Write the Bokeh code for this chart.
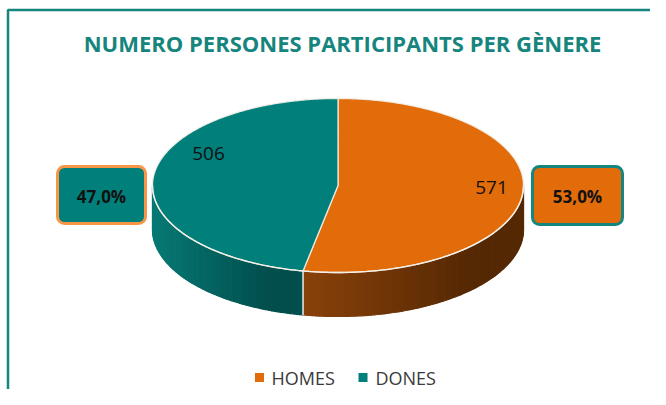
import numpy as np
from bokeh.plotting import figure
from bokeh.models import Range1d, BoxAnnotation
from bokeh.core.properties import value
from bokeh.embed import file_html
from bokeh.resources import INLINE

# ---- data ----
categories = ["HOMES", "DONES"]
counts = [571, 506]
pct_labels = ["53,0%", "47,0%"]
title_text = "NUMERO PERSONES PARTICIPANTS PER GÈNERE"

# ---- style ----
top_colors = ["#E26B0A", "#017F7A"]
side_left = [(0x8A, 0x42, 0x0B), (0x08, 0x7A, 0x75)]
side_right = [(0x55, 0x29, 0x04), (0x02, 0x4F, 0x4D)]
callout_fill = ["#E26B0A", "#017F7A"]
callout_border = ["#13877F", "#F79646"]
TEAL_TITLE = "#16857E"
FONT = "Open Sans"

W, H = 650, 389
p = figure(width=W, height=H, output_backend="svg", toolbar_location=None,
           x_range=Range1d(0, W), y_range=Range1d(H, 0),
           min_border=0)
p.axis.visible = False
p.grid.visible = False
p.outline_line_color = None
p.background_fill_color = "white"
p.border_fill_color = "white"

# chart frame
p.line([7.5, 7.5, W], [H, 9.5, 9.5], line_color="#16857E", line_width=2.5)

# pie geometry (layout)
cx, cy, rx, ry, depth = 337.5, 185.0, 185.5, 87.0, 44.0

total = float(sum(counts))
fracs = [c / total for c in counts]
starts, ends = [], []
a = 90.0
for f in fracs:
    starts.append(a)
    a -= f * 360.0
    ends.append(a)

def ex(t):
    return cx + rx * np.cos(np.radians(t))

def ey(t, off=0.0):
    return cy - ry * np.sin(np.radians(t)) + off

for i in range(len(counts)):
    lo, hi = ends[i], starts[i]
    for shift in (-360, 0, 360):
        a0 = max(lo + shift, 180.0)
        a1 = min(hi + shift, 360.0)
        if a1 > a0:
            n = max(2, int((a1 - a0) / 1.0))
            ts = np.linspace(a0, a1, n + 1)
            xs_list, ys_list, cols = [], [], []
            xL = ex(ts).min()
            xR = ex(ts).max()
            for k in range(n):
                t0, t1 = ts[k], ts[k + 1]
                xs_list.append([ex(t0), ex(t1), ex(t1), ex(t0)])
                ys_list.append([ey(t0), ey(t1), ey(t1, depth), ey(t0, depth)])
                xm = 0.5 * (ex(t0) + ex(t1))
                u = (xm - xL) / max(xR - xL, 1e-6)
                u = min(1.0, u * 1.3)
                c0, c1 = side_left[i], side_right[i]
                col = tuple(int(c0[j] + (c1[j] - c0[j]) * u) for j in range(3))
                cols.append("#%02x%02x%02x" % col)
            p.patches(xs_list, ys_list, fill_color=cols, line_color=cols, line_width=1.2)

for b in starts:
    t = b % 360.0
    if 180.0 < t < 360.0:
        p.line([ex(t), ex(t)], [ey(t), ey(t, depth)], line_color="#f4efe8", line_width=1.5)

for i in range(len(counts)):
    ts = np.linspace(ends[i], starts[i], 300)
    xs = np.concatenate([[cx], ex(ts)])
    ys = np.concatenate([[cy], ey(ts)])
    p.patch(xs, ys, fill_color=top_colors[i], line_color="#f4efe8", line_width=1.3,
            line_alpha=0.9)

tt = np.linspace(180, 360, 300)
p.line(ex(tt), ey(tt), line_color="#f4efe8", line_width=1.5, line_alpha=0.95)

# value labels (positions are layout)
value_pos = [(491, 187), (208, 153)]
p.text(x=[v[0] for v in value_pos], y=[v[1] for v in value_pos],
       text=[str(c) for c in counts], text_font=value(FONT), text_font_size="19px",
       text_color="#111111", text_align="center", text_baseline="middle")

# callouts
boxes = [(532, 622, 166, 224), (57, 145, 166, 223)]
for i in range(len(counts)):
    l, r, t, b = boxes[i]
    p.add_layout(BoxAnnotation(left=l, right=r, top=t, bottom=b,
                               fill_color=callout_fill[i], fill_alpha=1.0,
                               line_color=callout_border[i], line_alpha=1.0,
                               line_width=3, border_radius=7))
pr = p.text(x=[(b[0] + b[1]) / 2 for b in boxes], y=[(b[2] + b[3]) / 2 + 1 for b in boxes],
            text=pct_labels, text_font=value(FONT), text_font_size="17px",
            text_font_style="bold", text_color="#111111", text_align="center",
            text_baseline="middle")
pr.level = "overlay"

# title
p.text(x=[342], y=[42], text=[title_text], text_font=value(FONT),
       text_font_size="22px", text_font_style="bold", text_color=TEAL_TITLE,
       text_align="center", text_baseline="middle")

# legend
leg_sq_x = [259, 362.5]
leg_tx_x = [271, 375]
leg_y = 377
p.rect(x=leg_sq_x, y=[leg_y] * 2, width=9, height=9, fill_color=top_colors,
       line_color=None)
p.text(x=leg_tx_x, y=[leg_y] * 2, text=categories, text_font=value(FONT),
       text_font_size="18px", text_color="#3a3a3a", text_align="left",
       text_baseline="middle")

open("out.html", "w").write(file_html(p, INLINE))
